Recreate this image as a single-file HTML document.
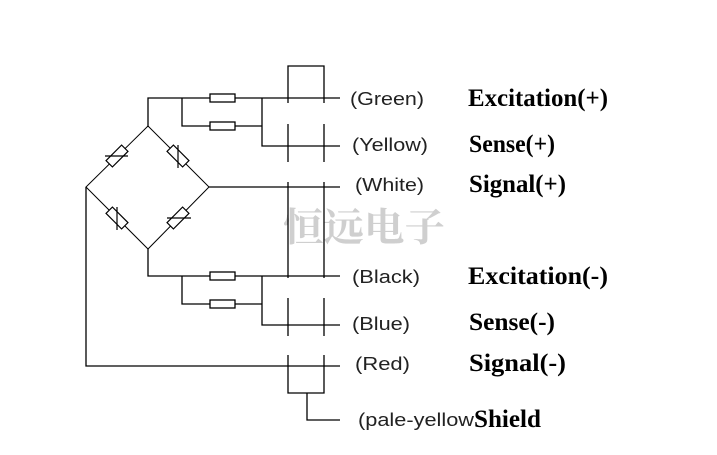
<!DOCTYPE html>
<html><head><meta charset="utf-8"><style>
html,body{margin:0;padding:0;background:#fff;}
svg{display:block;}
.l{font-family:"Liberation Sans",sans-serif;font-size:18px;fill:#222;}
.b{font-family:"Liberation Serif",serif;font-weight:bold;font-size:25px;fill:#000;}
</style></head><body>
<svg width="717" height="455" viewBox="0 0 717 455" xmlns="http://www.w3.org/2000/svg">
<text x="283" y="241" font-family="Liberation Serif, Noto Serif CJK SC, serif" font-weight="bold" font-size="39" fill="#cfcfcf" textLength="162" lengthAdjust="spacingAndGlyphs">恒远电子</text>
<g stroke="#000" stroke-width="1.3" fill="none">
<path d="M148,126 L209,187 L148,249 L86,187 Z" stroke-width="1"/>
<g stroke-width="1.2" fill="#fff">
<rect x="-11" y="-4.5" width="22" height="9" transform="translate(117,156) rotate(-45)"/>
<rect x="-11" y="-4.5" width="22" height="9" transform="translate(178,156) rotate(45)"/>
<rect x="-11" y="-4.5" width="22" height="9" transform="translate(117,218) rotate(45)"/>
<rect x="-11" y="-4.5" width="22" height="9" transform="translate(178,218) rotate(-45)"/>
</g>
<path d="M105,156 H128 M178,145 V168 M117,207 V230 M167,218 H191" stroke-width="1.2"/>
<path d="M148,126 V98 H340 M182,98 V126 H262 M262,98 V146 H340 M209,187 H340"/>
<path d="M148,249 V276 H340 M182,276 V304 H262 M262,276 V325 H340 M86,187 V366 H340"/>
<g fill="#fff">
<rect x="210" y="94" width="25" height="8"/><rect x="210" y="122" width="25" height="8"/>
<rect x="210" y="272" width="25" height="8"/><rect x="210" y="300" width="25" height="8"/>
</g>
<path d="M288,103 V66 H324 V103 M288,124 V162 M324,124 V162 M288,182 V278 M324,182 V278 M288,298 V336 M324,298 V336 M288,355 V393 H324 V355 M307,393 V420 H340"/>
</g>
<text class="l" x="350" y="105" textLength="74" lengthAdjust="spacingAndGlyphs">(Green)</text>
<text class="l" x="352" y="151" textLength="76" lengthAdjust="spacingAndGlyphs">(Yellow)</text>
<text class="l" x="355" y="191" textLength="69" lengthAdjust="spacingAndGlyphs">(White)</text>
<text class="l" x="352" y="283" textLength="68" lengthAdjust="spacingAndGlyphs">(Black)</text>
<text class="l" x="352" y="330" textLength="58" lengthAdjust="spacingAndGlyphs">(Blue)</text>
<text class="l" x="355" y="370" textLength="55" lengthAdjust="spacingAndGlyphs">(Red)</text>
<text class="l" x="358" y="426" textLength="116" lengthAdjust="spacingAndGlyphs">(pale-yellow</text>
<text class="b" x="468" y="106" textLength="140" lengthAdjust="spacingAndGlyphs">Excitation(+)</text>
<text class="b" x="469" y="152" textLength="86" lengthAdjust="spacingAndGlyphs">Sense(+)</text>
<text class="b" x="469" y="192" textLength="97" lengthAdjust="spacingAndGlyphs">Signal(+)</text>
<text class="b" x="468" y="284" textLength="140" lengthAdjust="spacingAndGlyphs">Excitation(-)</text>
<text class="b" x="469" y="330" textLength="86" lengthAdjust="spacingAndGlyphs">Sense(-)</text>
<text class="b" x="469" y="371" textLength="97" lengthAdjust="spacingAndGlyphs">Signal(-)</text>
<text class="b" x="474" y="427" textLength="67" lengthAdjust="spacingAndGlyphs">Shield</text>
</svg>
</body></html>
